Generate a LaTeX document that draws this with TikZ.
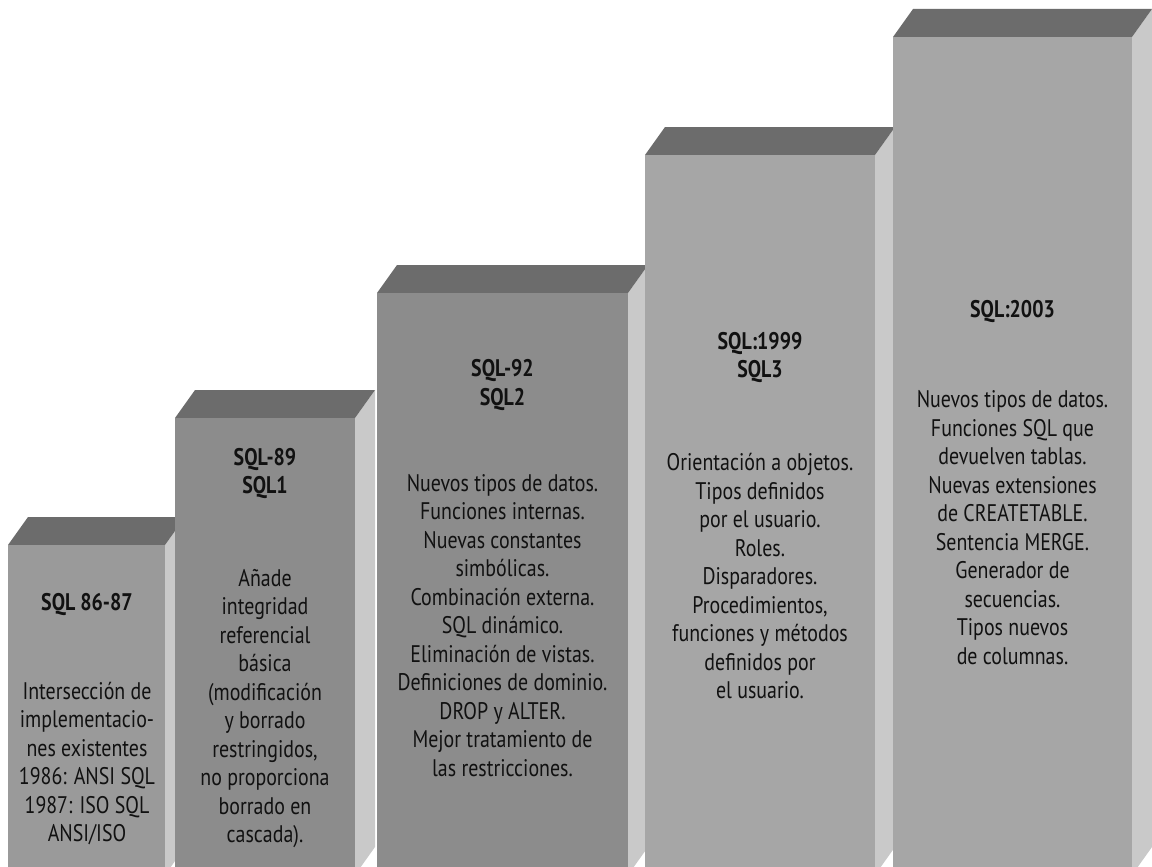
\documentclass[tikz,border=0pt]{standalone}
\usepackage{fontspec}
\setmainfont[FakeStretch=0.83]{PT Sans}
\definecolor{topc}{HTML}{6C6C6C}
\definecolor{sidec}{HTML}{C9C9C9}
\definecolor{frontA}{HTML}{9A9A9A}
\definecolor{frontB}{HTML}{8C8C8C}
\definecolor{frontC}{HTML}{A6A6A6}
\definecolor{txt}{HTML}{111111}
\newcommand{\barthree}[5]{% left, right, topfront, frontcolor, dummy
  \fill[sidec] (#2,#3) -- (#2+20,#3-28) -- (#2+20,847) -- (#2,875) -- cycle;
  \fill[topc] (#1,#3) -- (#1+20,#3-28) -- (#2+20,#3-28) -- (#2,#3) -- cycle;
  \fill[#4] (#1,#3) rectangle (#2,875);
}
\begin{document}
\begin{tikzpicture}[x=1pt,y=-1pt,
  body/.style={align=center,text=txt,inner sep=0pt,font=\fontsize{24}{28.5}\selectfont},
  title/.style={align=center,text=txt,inner sep=0pt,font=\bfseries\fontsize{24}{28.5}\selectfont}]
\useasboundingbox[fill=white] (0,0) rectangle (1152,867);
\begin{scope}
\clip (0,0) rectangle (1152,867);
\barthree{8}{165}{545}{frontA}{}
\barthree{175}{355}{418}{frontB}{}
\barthree{377}{628}{293}{frontB}{}
\barthree{645}{875}{155}{frontC}{}
\barthree{893}{1132}{37}{frontC}{}
\end{scope}
% bar 1
\node[title] (t1) at (87,605) {SQL 86-87};
\node[body] (b1) at (87,763.5) {Intersección de\\implementacio-\\nes existentes\\1986: ANSI SQL\\1987: ISO SQL\\ANSI/ISO};
% bar 2
\node[title] (t2) at (265,473.5) {SQL-89\\SQL1};
\node[body] (b2) at (265,708.5) {Añade\\integridad\\referencial\\básica\\(modificación\\y borrado\\restringidos,\\no proporciona\\borrado en\\cascada).};
% bar 3
\node[title] (t3) at (502.5,385) {SQL-92\\SQL2};
\node[body] (b3) at (502.5,625.5) {Nuevos tipos de datos.\\Funciones internas.\\Nuevas constantes\\simbólicas.\\Combinación externa.\\SQL dinámico.\\Eliminación de vistas.\\Definiciones de dominio.\\DROP y ALTER.\\Mejor tratamiento de\\las restricciones.};
% bar 4
\node[title] (t4) at (760,357.5) {SQL:1999\\SQL3};
\node[body] (b4) at (760,576) {Orientación a objetos.\\Tipos definidos\\por el usuario.\\Roles.\\Disparadores.\\Procedimientos,\\funciones y métodos\\definidos por\\el usuario.};
% bar 5
\node[title] (t5) at (1012.5,312) {SQL:2003};
\node[body] (b5) at (1012.5,527.5) {Nuevos tipos de datos.\\Funciones SQL que\\devuelven tablas.\\Nuevas extensiones\\de CREATETABLE.\\Sentencia MERGE.\\Generador de\\secuencias.\\Tipos nuevos\\de columnas.};
\end{tikzpicture}
\end{document}
